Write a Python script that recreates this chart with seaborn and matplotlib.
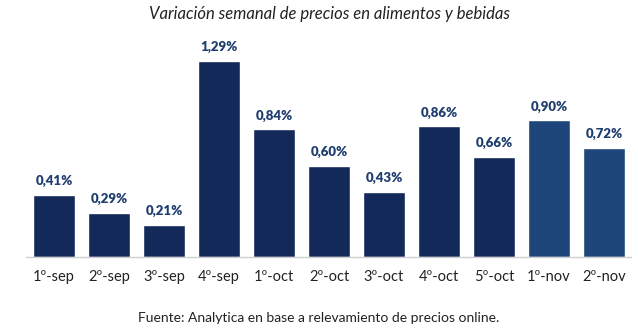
import matplotlib
matplotlib.use("Agg")
import matplotlib.pyplot as plt
import seaborn as sns
import pandas as pd

weeks = ["1º-sep", "2º-sep", "3º-sep", "4º-sep", "1º-oct", "2º-oct", "3º-oct",
         "4º-oct", "5º-oct", "1º-nov", "2º-nov"]
values = [0.41, 0.29, 0.21, 1.29, 0.84, 0.60, 0.43, 0.86, 0.66, 0.90, 0.72]
labels = ["0,41%", "0,29%", "0,21%", "1,29%", "0,84%", "0,60%", "0,43%",
          "0,86%", "0,66%", "0,90%", "0,72%"]
month_group = ["old"] * 9 + ["nov"] * 2

title = "Variación semanal de precios en alimentos y bebidas"
source = "Fuente: Analytica en base a relevamiento de precios online."

df = pd.DataFrame({"week": weeks, "value": values, "grp": month_group})

sns.set_theme(style="white")
plt.rcParams["font.family"] = ["Lato", "DejaVu Sans"]

fig = plt.figure(figsize=(6.38, 3.29), dpi=100)
ax = fig.add_axes([0.0415, 0.2188, 0.9483, 0.6468])

palette = {"old": "#12295a", "nov": "#1f467a"}
sns.barplot(data=df, x="week", y="value", hue="grp", palette=palette,
            dodge=False, width=0.76, legend=False, ax=ax, saturation=1)

for i, (v, lab) in enumerate(zip(values, labels)):
    ax.text(i, v + 0.05, lab, ha="center", va="bottom", fontsize=9.5,
            fontweight="heavy", color="#1f3d6e")

ax.set_xlim(-0.5, 10.5)
ax.set_ylim(0, 1.4)
ax.set_yticks([])
ax.set_xlabel("")
ax.set_ylabel("")
for s in ["top", "right", "left"]:
    ax.spines[s].set_visible(False)
ax.spines["bottom"].set_color("#d0d0d0")
ax.spines["bottom"].set_linewidth(1)
ax.tick_params(axis="x", length=0, pad=9, labelsize=10.5, labelcolor="#222222")

fig.text(0.5165, 0.958, title, ha="center", va="center", fontsize=12,
         style="italic", color="#222222")
fig.text(0.4995, 0.033, source, ha="center", va="center", fontsize=10,
         color="#222222")

fig.savefig("out.png", dpi=100)
